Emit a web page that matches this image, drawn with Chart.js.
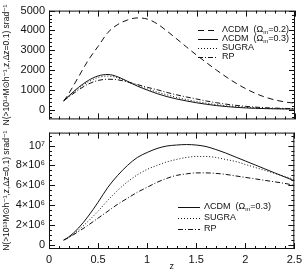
<!DOCTYPE html>
<html>
<head>
<meta charset="utf-8">
<script src="https://cdn.jsdelivr.net/npm/chart.js@4"></script>
<style>
  body { margin: 0; background: #fff; }
  #wrap { position: relative; width: 306px; height: 272px; }
  canvas { position: absolute; left: 0; }
</style>
</head>
<body>
<div id="wrap">
  <canvas id="top" width="306" height="130" style="top:0"></canvas>
  <canvas id="bottom" width="306" height="150" style="top:122px"></canvas>
</div>
<script>
// redshift values shared by both panels
const zValues = [0.15, 0.2, 0.3, 0.4, 0.5, 0.6, 0.7, 0.8, 0.9, 1.0, 1.1, 1.2, 1.3,
                 1.4, 1.5, 1.6, 1.7, 1.8, 1.9, 2.0, 2.1, 2.2, 2.3, 2.4, 2.5];

// top panel: N(>1e14 Msun/h)
const topLcdm02 = [420, 800, 1650, 2500, 3200, 3900, 4300, 4530, 4630, 4570, 4330, 3960, 3560,
                   3150, 2750, 2370, 2000, 1650, 1330, 1050, 810, 620, 480, 380, 320];
const topLcdm03 = [450, 680, 1120, 1470, 1700, 1770, 1650, 1420, 1180, 980, 800, 650, 530,
                   430, 340, 265, 200, 150, 110, 80, 60, 45, 35, 28, 22];
const topSugra = [450, 660, 1070, 1400, 1620, 1690, 1600, 1400, 1210, 1040, 880, 740, 610,
                  500, 400, 320, 250, 190, 145, 110, 82, 62, 48, 38, 30];
const topRp = [450, 630, 990, 1290, 1470, 1530, 1500, 1390, 1260, 1120, 1000, 860, 740,
               630, 530, 430, 345, 270, 210, 160, 120, 90, 70, 55, 45];

// bottom panel: N(>1e13 Msun/h), in units of 10^6
const botLcdm03 = [0.5, 0.8, 1.7, 2.9, 4.3, 5.8, 7.0, 8.0, 8.8, 9.3, 9.7, 9.95, 10.05,
                   10.1, 10.05, 9.9, 9.6, 9.25, 8.85, 8.45, 8.05, 7.65, 7.25, 6.85, 6.45];
const botSugra = [0.5, 0.75, 1.5, 2.4, 3.4, 4.5, 5.5, 6.35, 7.05, 7.6, 8.0, 8.35, 8.6,
                  8.8, 8.9, 8.9, 8.8, 8.6, 8.4, 8.1, 7.8, 7.5, 7.2, 6.9, 6.6];
const botRp = [0.5, 0.75, 1.35, 2.0, 2.7, 3.4, 4.1, 4.7, 5.3, 5.8, 6.3, 6.7, 7.0,
               7.15, 7.25, 7.25, 7.2, 7.1, 6.95, 6.8, 6.65, 6.5, 6.35, 6.2, 6.0];

// tick labels
const topTickValues = [0, 1000, 2000, 3000, 4000, 5000];
const topTickLabels = ["0", "1000", "2000", "3000", "4000", "5000"];
const botTickValues = [0, 2, 4, 6, 8, 10];
const botTickLabels = ["0", "2×10⁶", "4×10⁶", "6×10⁶", "8×10⁶", "10⁷"];
const xTickValues = [0, 0.5, 1, 1.5, 2, 2.5];
const xTickLabels = ["0", "0.5", "1", "1.5", "2", "2.5"];

// legend texts: [main, subscript, rest]
const legTop = [["ΛCDM  (Ω", "m", "=0.2)"], ["ΛCDM  (Ω", "m", "=0.3)"], ["SUGRA", "", ""], ["RP", "", ""]];
const legBot = [["ΛCDM  (Ω", "m", "=0.3)"], ["SUGRA", "", ""], ["RP", "", ""]];

const INK = "#111";
const FONT = "'Liberation Sans', 'DejaVu Sans', sans-serif";

function pts(ys) {
    return ys.map((y, i) => ({ x: zValues[i], y: y }));
}
function line(data, dash) {
    return { data: pts(data), borderColor: INK, borderWidth: 1, borderDash: dash,
             pointRadius: 0, fill: false, cubicInterpolationMode: "monotone" };
}

// box with inward tick marks on all four sides
const framePlugin = {
    id: "frame",
    afterDatasetsDraw(chart, args, opts) {
        const ctx = chart.ctx;
        const a = chart.chartArea;
        const xs = chart.scales.x, ys = chart.scales.y;
        ctx.save();
        ctx.strokeStyle = INK;
        ctx.lineWidth = 1;
        ctx.strokeRect(a.left + 0.5, a.top + 0.5, a.right - a.left - 1, a.bottom - a.top - 1);
        ctx.beginPath();
        for (let i = 0; i <= 25; i++) {
            const v = i / 10;
            const px = Math.round(xs.getPixelForValue(v)) + 0.5;
            const len = (i % 5 === 0) ? 6 : 3;
            ctx.moveTo(px, a.bottom); ctx.lineTo(px, a.bottom - len);
            ctx.moveTo(px, a.top); ctx.lineTo(px, a.top + len);
        }
        for (let v = opts.minorStart; v <= ys.max; v += opts.minorStep) {
            const py = Math.round(ys.getPixelForValue(v)) + 0.5;
            if (py < a.top || py > a.bottom) continue;
            const major = Math.abs(v / opts.majorStep - Math.round(v / opts.majorStep)) < 1e-6;
            const len = major ? 6 : 3;
            ctx.moveTo(a.left, py); ctx.lineTo(a.left + len, py);
            ctx.moveTo(a.right, py); ctx.lineTo(a.right - len, py);
        }
        ctx.stroke();
        ctx.restore();
    }
};

// legend drawn inside the plot
const legendPlugin = {
    id: "innerLegend",
    afterDatasetsDraw(chart, args, opts) {
        const ctx = chart.ctx;
        const a = chart.chartArea;
        ctx.save();
        ctx.fillStyle = INK;
        ctx.strokeStyle = INK;
        ctx.lineWidth = 1;
        ctx.textBaseline = "middle";
        chart.data.datasets.forEach((ds, i) => {
            const y = a.top + opts.y + i * opts.rowH;
            const x0 = a.left + opts.x;
            ctx.setLineDash(ds.borderDash || []);
            ctx.beginPath();
            ctx.moveTo(x0, Math.round(y) + 0.5);
            ctx.lineTo(x0 + opts.lineLen, Math.round(y) + 0.5);
            ctx.stroke();
            ctx.setLineDash([]);
            const t = opts.texts[i];
            let tx = x0 + opts.lineLen + 4;
            ctx.font = "9px " + FONT;
            ctx.fillText(t[0], tx, y);
            tx += ctx.measureText(t[0]).width;
            if (t[1]) {
                ctx.font = "6px " + FONT;
                ctx.fillText(t[1], tx, y + 3);
                tx += ctx.measureText(t[1]).width;
                ctx.font = "9px " + FONT;
                ctx.fillText(t[2], tx, y);
            }
        });
        ctx.restore();
    }
};

function yAxis(min, max, values, labels, title) {
    return {
        type: "linear", min: min, max: max,
        afterFit: (s) => { s.width = 49; },
        afterBuildTicks: (s) => { s.ticks = values.map(v => ({ value: v })); },
        ticks: {
            color: INK, padding: 4, font: { family: FONT, size: 11 },
            callback: (v) => labels[values.indexOf(v)]
        },
        grid: { display: false, drawTicks: false },
        border: { display: false },
        title: { display: true, text: title, color: INK, padding: { top: 2, bottom: 0 },
                 font: { family: FONT, size: 8.5 } }
    };
}

new Chart(document.getElementById("top"), {
    type: "line",
    data: {
        datasets: [
            line(topLcdm02, [6, 4]),
            line(topLcdm03, []),
            line(topSugra, [1, 2]),
            line(topRp, [5, 2, 1, 2])
        ]
    },
    options: {
        responsive: false,
        animation: false,
        layout: { padding: { top: 4, bottom: 4, left: 0, right: 11 } },
        plugins: {
            legend: { display: false },
            tooltip: { enabled: false },
            frame: { minorStart: -400, minorStep: 200, majorStep: 1000 },
            innerLegend: { x: 149, y: 19, rowH: 9, lineLen: 20, texts: legTop }
        },
        scales: {
            x: { type: "linear", min: 0, max: 2.5, display: false },
            y: yAxis(-500, 5000, topTickValues, topTickLabels, "N(>10¹⁴M⊙h⁻¹,z,Δz=0.1) srad⁻¹")
        }
    },
    plugins: [framePlugin, legendPlugin]
});

new Chart(document.getElementById("bottom"), {
    type: "line",
    data: {
        datasets: [
            line(botLcdm03, []),
            line(botSugra, [1, 2]),
            line(botRp, [5, 2, 1, 2])
        ]
    },
    options: {
        responsive: false,
        animation: false,
        layout: { padding: { top: 4, bottom: 0, left: 0, right: 11 } },
        plugins: {
            legend: { display: false },
            tooltip: { enabled: false },
            frame: { minorStart: 0, minorStep: 0.5, majorStep: 2 },
            innerLegend: { x: 129, y: 74, rowH: 11, lineLen: 22, texts: legBot }
        },
        scales: {
            x: {
                type: "linear", min: 0, max: 2.5,
                afterFit: (s) => { s.height = 23; },
                afterBuildTicks: (s) => { s.ticks = xTickValues.map(v => ({ value: v })); },
                ticks: {
                    color: INK, padding: 4, maxRotation: 0, font: { family: FONT, size: 11 },
                    callback: (v) => xTickLabels[xTickValues.indexOf(v)]
                },
                grid: { display: false, drawTicks: false },
                border: { display: false },
                title: { display: true, text: "z", color: INK, padding: 0,
                         font: { family: FONT, size: 9 } }
            },
            y: yAxis(-0.4, 11.3, botTickValues, botTickLabels, "N(>10¹³M⊙h⁻¹,z,Δz=0.1) srad⁻¹")
        }
    },
    plugins: [framePlugin, legendPlugin]
});
</script>
</body>
</html>
